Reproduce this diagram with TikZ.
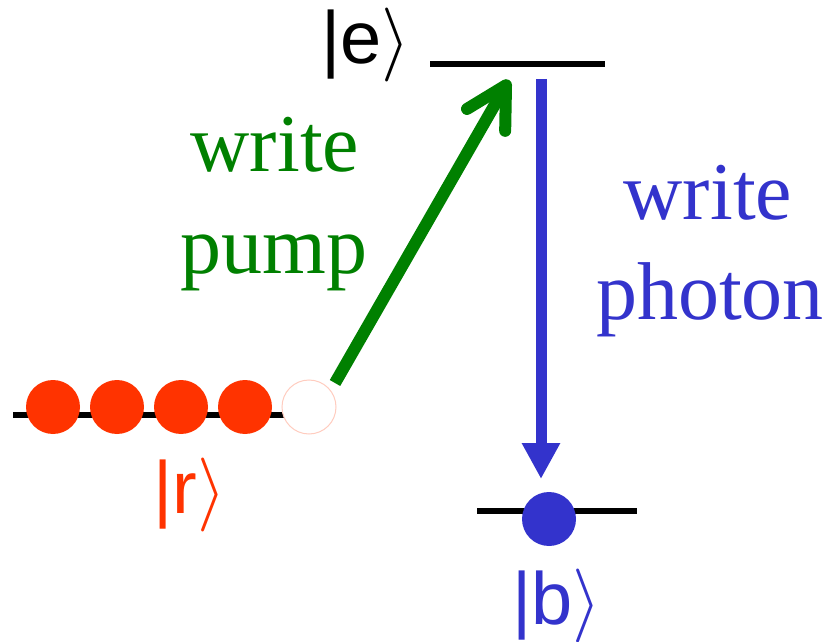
\RequirePackage{fix-cm}
\documentclass[tikz,border=0pt]{standalone}
\usepackage{fontspec}
\setmainfont{Liberation Serif}
\newfontfamily\ketfont{Liberation Sans}
\usepackage{xcolor}
\usetikzlibrary{arrows.meta,positioning}
\definecolor{pumpgreen}{HTML}{008000}
\definecolor{photonblue}{HTML}{3333CC}
\definecolor{atomred}{HTML}{FF3300}

\begin{document}
\begin{tikzpicture}[x=0.5pt, y=-0.5pt,
    level/.style={line width=3pt},
    atom/.style={circle, minimum size=27pt, inner sep=0pt},
    ketlbl/.style={font=\fontsize{37}{44}\selectfont\ketfont, inner sep=0pt},
    wordlbl/.style={font=\fontsize{41}{50}\selectfont, anchor=base, inner sep=0pt}]
  \useasboundingbox (0,0) rectangle (831,642);
  \coordinate (eL) at (430,64); \coordinate (eR) at (605,64);
  \coordinate (rL) at (13,415); \coordinate (rR) at (290,415);
  \coordinate (bL) at (477,511); \coordinate (bR) at (637,511);
  \draw[level] (eL) -- (eR);
  \draw[level] (rL) -- (rR);
  \draw[level] (bL) -- (bR);
  \node[ketlbl] (ke) at (366,45) {|e$\rangle$};
  \node[ketlbl, atomred] (kr) at (190,495) {|r$\rangle$};
  \node[ketlbl, photonblue] (kb) at (557,606) {|b$\rangle$};
  \foreach \i in {1,...,4}
    \node[atom, fill=atomred] (r\i) at ({53+64*(\i-1)},407) {};
  \node[atom, draw=atomred!25, line width=0.5pt, fill=white] (r5) at (309,407) {};
  \node[atom, fill=photonblue] (b1) at (549,519) {};
  \coordinate (pumpfrom) at (335,383); \coordinate (pumpto) at (509,80);
  \coordinate (emitfrom) at (541,79); \coordinate (emitto) at (541,479);
  \draw[pumpgreen, line width=6pt, -{Straight Barb[round, length=20pt, width=22pt]}]
    (pumpfrom) -- (pumpto);
  \draw[photonblue, line width=5.5pt, -{Triangle[length=18pt, width=18pt]}]
    (emitfrom) -- (emitto);
  \node[wordlbl, pumpgreen] (wp) at (275,172) {write};
  \node[wordlbl, pumpgreen] (pp) at (274,273) {pump};
  \node[wordlbl, photonblue] (wph) at (708,220) {write};
  \node[wordlbl, photonblue] (ph) at (710,320) {photon};
\end{tikzpicture}
\end{document}
